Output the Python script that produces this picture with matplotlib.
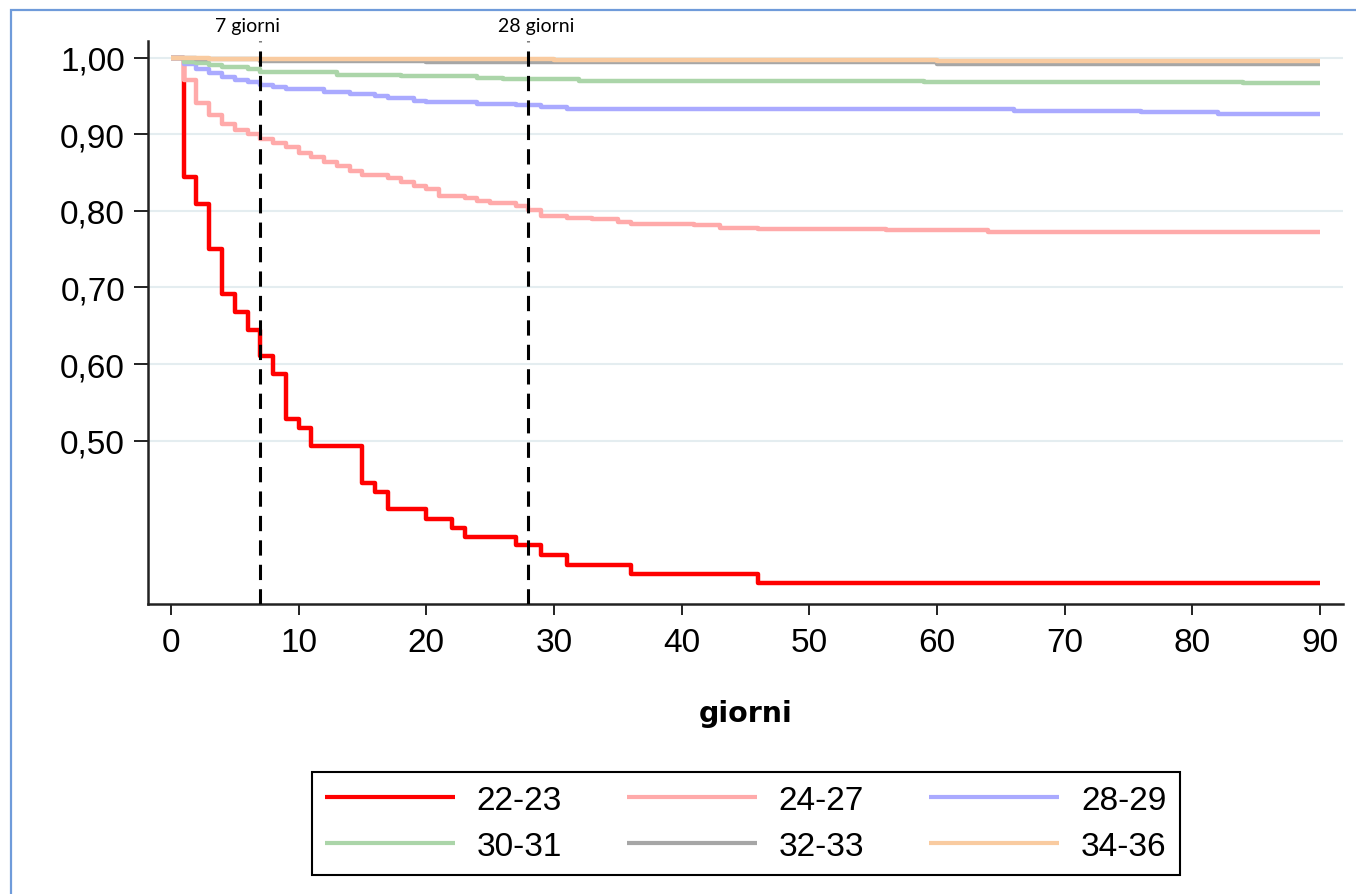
import matplotlib
matplotlib.use("Agg")
import matplotlib.pyplot as plt
import matplotlib.transforms as mtransforms
from matplotlib.patches import Rectangle

# Kaplan-Meier style curves, days since start (step post)
red_t = [0, 1, 2, 3, 4, 5, 6, 7, 8, 9, 10, 11, 15, 16, 17, 20, 22, 23, 27, 29, 31, 36, 46, 90]
red_s = [1.0, 0.845, 0.809, 0.750, 0.691, 0.668, 0.645, 0.610, 0.587, 0.528, 0.517, 0.493,
         0.445, 0.433, 0.410, 0.398, 0.386, 0.374, 0.363, 0.350, 0.338, 0.325, 0.314, 0.314]

pink_t = [0, 1, 2, 3, 4, 5, 6, 7, 8, 9, 10, 11, 12, 13, 14, 15, 17, 18, 19, 20, 21, 23, 24,
          25, 27, 28, 29, 31, 33, 35, 36, 41, 43, 46, 56, 64, 90]
pink_s = [1.0, 0.971, 0.941, 0.925, 0.914, 0.906, 0.901, 0.894, 0.889, 0.883, 0.876, 0.870,
          0.864, 0.859, 0.852, 0.847, 0.843, 0.838, 0.833, 0.829, 0.819, 0.817, 0.813, 0.811,
          0.807, 0.801, 0.794, 0.791, 0.789, 0.786, 0.783, 0.781, 0.778, 0.776, 0.775, 0.773, 0.773]

blue_t = [0, 1, 2, 3, 4, 5, 6, 7, 8, 9, 12, 14, 16, 17, 19, 20, 24, 27, 29, 31, 66, 76, 82, 90]
blue_s = [1.0, 0.992, 0.986, 0.980, 0.975, 0.971, 0.969, 0.965, 0.962, 0.959, 0.956, 0.953,
          0.950, 0.948, 0.944, 0.942, 0.940, 0.938, 0.936, 0.933, 0.931, 0.929, 0.927, 0.927]

green_t = [0, 1, 2, 3, 4, 6, 7, 10, 13, 18, 24, 26, 32, 59, 84, 90]
green_s = [1.0, 0.995, 0.993, 0.991, 0.988, 0.985, 0.982, 0.981, 0.978, 0.976, 0.974, 0.973,
           0.970, 0.968, 0.967, 0.967]

gray_t = [0, 2, 7, 20, 30, 60, 90]
gray_s = [1.0, 0.998, 0.996, 0.995, 0.994, 0.992, 0.992]

orange_t = [0, 3, 10, 30, 60, 90]
orange_s = [1.0, 0.999, 0.998, 0.997, 0.996, 0.996]

groups = ["22-23", "24-27", "28-29", "30-31", "32-33", "34-36"]

xticks = [0, 10, 20, 30, 40, 50, 60, 70, 80, 90]
yticks = [0.5, 0.6, 0.7, 0.8, 0.9, 1.0]
ytick_labels = ["0,50", "0,60", "0,70", "0,80", "0,90", "1,00"]

marks = [7, 28]
mark_labels = ["7 giorni", "28 giorni"]
mark_label_x = [6.0, 28.6]

fig = plt.figure(figsize=(13.56, 8.95), dpi=100)
ax = fig.add_axes([0.1091, 0.3235, 0.8813, 0.6295])

series = [
    (red_t, red_s, "#FF0000"),
    (pink_t, pink_s, "#FFAAAA"),
    (blue_t, blue_s, "#AAAAFF"),
    (green_t, green_s, "#ABD5A9"),
    (gray_t, gray_s, "#A6A6A6"),
    (orange_t, orange_s, "#F9CBA0"),
]
handles = []
for (t, s, c), name in zip(series, groups):
    (ln,) = ax.plot(t, s, drawstyle="steps-post", color=c, linewidth=3.2, label=name,
                    solid_capstyle="butt", zorder=3)
    handles.append(ln)

for m in marks:
    ax.axvline(m, color="black", linewidth=2.2, dashes=(5, 3), zorder=4)

trans = mtransforms.blended_transform_factory(ax.transData, fig.transFigure)
for x, lab in zip(mark_label_x, mark_labels):
    ax.text(x, 1 - 32 / 895, lab, transform=trans, ha="center", va="baseline",
            fontsize=14, family="Lato", clip_on=False)

ax.set_xlim(-1.8, 91.8)
ax.set_ylim(0.2858, 1.022)
ax.set_xticks(xticks)
ax.set_yticks(yticks)
ax.set_yticklabels(ytick_labels)
ax.grid(axis="y", color="#E4EDF0", linewidth=1.5, zorder=0)
ax.grid(axis="x", visible=False)

for side in ["top", "right"]:
    ax.spines[side].set_visible(False)
for side in ["left", "bottom"]:
    ax.spines[side].set_color("#222222")
    ax.spines[side].set_linewidth(1.8)

ax.tick_params(axis="x", length=8, width=1.4, color="#222222", pad=8,
               labelsize=24, labelfontfamily="Liberation Sans")
ax.tick_params(axis="y", length=10, width=1.4, color="#222222", pad=6.5,
               labelsize=24, labelfontfamily="Liberation Sans")

ax.set_xlabel("giorni", fontsize=20.5, fontweight="bold", family="DejaVu Sans", labelpad=30)

# legend is filled row by row in the original, matplotlib fills by column
order = [0, 3, 1, 4, 2, 5]
leg = fig.legend([handles[i] for i in order], [groups[i] for i in order],
                 loc="center", bbox_to_anchor=(0.55, 0.0788), ncol=3, frameon=True,
                 fancybox=False, edgecolor="black", framealpha=1,
                 prop={"family": "Liberation Sans", "size": 24},
                 handlelength=3.9, handletextpad=0.65, columnspacing=1.95,
                 labelspacing=0.45, borderpad=0.4)
leg.get_frame().set_linewidth(1.5)
for h in leg.get_lines():
    h.set_linewidth(3)

# thin blue frame around the whole picture
fig.patches.append(Rectangle((11 / 1356, -0.05), 1.2, 1 - 11 / 895 + 0.05,
                             transform=fig.transFigure, fill=False,
                             edgecolor="#6F9BDA", linewidth=1.6))

fig.savefig("out.png", dpi=100)
